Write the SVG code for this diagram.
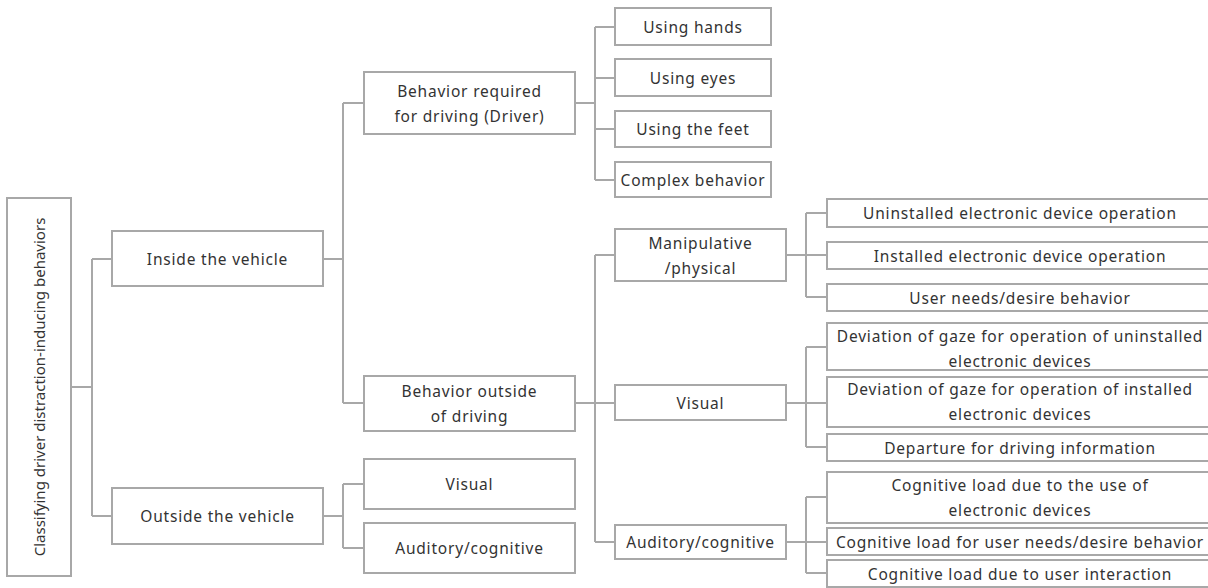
<svg xmlns="http://www.w3.org/2000/svg" width="1208" height="588" viewBox="0 0 1208 588">
<style>
.box{fill:#fff;stroke:#a8a8a8;stroke-width:2}
.t{font-family:"Noto Sans","Liberation Sans",sans-serif;font-size:15.5px;letter-spacing:0.8px;fill:#333;text-anchor:middle;dominant-baseline:central}
.r{letter-spacing:0;font-size:15px}
.c{fill:none;stroke:#a8a8a8;stroke-width:2}
</style>
<rect width="1208" height="588" fill="#fff"/>
<g id="connectors" class="c">
<path d="M71,387H92M92,259V516M92,259H112M92,516H112"/>
<path d="M323,259H343M343,103V403M343,103H364M343,403H364"/>
<path d="M323,516H343M343,484V548M343,484H364M343,548H364"/>
<path d="M575,103H595M595,27V180M595,27H615M595,78H615M595,129H615M595,180H615"/>
<path d="M575,403H615M595,255V542M595,255H615M595,542H615"/>
<path d="M786,255H827M806,213V297M806,213H827M806,297H827"/>
<path d="M786,403H827M806,347V447M806,347H827M806,447H827"/>
<path d="M786,542H827M806,497V573M806,497H827M806,573H827"/>
</g>
<g id="root"><rect class="box" x="7" y="198" width="64" height="378"/><text class="t r" transform="translate(39,387) rotate(-90)">Classifying driver distraction-inducing behaviors</text></g>
<g id="inside"><rect class="box" x="112" y="231" width="211" height="55"/><text class="t" x="217.5" y="259">Inside the vehicle</text></g>
<g id="outside"><rect class="box" x="112" y="488" width="211" height="56"/><text class="t" x="217.5" y="516">Outside the vehicle</text></g>
<g id="required"><rect class="box" x="364" y="72" width="211" height="62"/><text class="t" x="469.5" y="91">Behavior required</text><text class="t" x="469.5" y="116">for driving (Driver)</text></g>
<g id="outside-driving"><rect class="box" x="364" y="376" width="211" height="55"/><text class="t" x="469.5" y="391">Behavior outside</text><text class="t" x="469.5" y="416">of driving</text></g>
<g id="visual-out"><rect class="box" x="364" y="459" width="211" height="50"/><text class="t" x="469.5" y="484">Visual</text></g>
<g id="auditory-out"><rect class="box" x="364" y="523" width="211" height="50"/><text class="t" x="469.5" y="548">Auditory/cognitive</text></g>
<g id="hands"><rect class="box" x="615" y="8" width="156" height="37"/><text class="t" x="693" y="27">Using hands</text></g>
<g id="eyes"><rect class="box" x="615" y="59" width="156" height="37"/><text class="t" x="693" y="78">Using eyes</text></g>
<g id="feet"><rect class="box" x="615" y="111" width="156" height="36"/><text class="t" x="693" y="129">Using the feet</text></g>
<g id="complex"><rect class="box" x="615" y="162" width="156" height="35"/><text class="t" x="693" y="180">Complex behavior</text></g>
<g id="manipulative"><rect class="box" x="615" y="229" width="171" height="52"/><text class="t" x="700.5" y="243">Manipulative</text><text class="t" x="700.5" y="268">/physical</text></g>
<g id="visual"><rect class="box" x="615" y="385" width="171" height="35"/><text class="t" x="700.5" y="403">Visual</text></g>
<g id="auditory"><rect class="box" x="615" y="525" width="171" height="34"/><text class="t" x="700.5" y="542">Auditory/cognitive</text></g>
<g id="uninstalled"><rect class="box" x="827" y="199" width="390" height="28"/><text class="t" x="1020" y="213">Uninstalled electronic device operation</text></g>
<g id="installed"><rect class="box" x="827" y="242" width="390" height="27"/><text class="t" x="1020" y="255.5">Installed electronic device operation</text></g>
<g id="user-needs"><rect class="box" x="827" y="284" width="390" height="27"/><text class="t" x="1020" y="297.5">User needs/desire behavior</text></g>
<g id="gaze-uninstalled"><rect class="box" x="827" y="323" width="390" height="47"/><text class="t" x="1020" y="336">Deviation of gaze for operation of uninstalled</text><text class="t" x="1020" y="361">electronic devices</text></g>
<g id="gaze-installed"><rect class="box" x="827" y="377" width="390" height="50"/><text class="t" x="1020" y="389">Deviation of gaze for operation of installed</text><text class="t" x="1020" y="414">electronic devices</text></g>
<g id="departure"><rect class="box" x="827" y="434" width="390" height="27"/><text class="t" x="1020" y="447.5">Departure for driving information</text></g>
<g id="cog-use"><rect class="box" x="827" y="472" width="390" height="51"/><text class="t" x="1020" y="485">Cognitive load due to the use of</text><text class="t" x="1020" y="510">electronic devices</text></g>
<g id="cog-needs"><rect class="box" x="827" y="528" width="390" height="27"/><text class="t" x="1020" y="541.5">Cognitive load for user needs/desire behavior</text></g>
<g id="cog-interaction"><rect class="box" x="827" y="560" width="390" height="27"/><text class="t" x="1020" y="573.5">Cognitive load due to user interaction</text></g>
</svg>
